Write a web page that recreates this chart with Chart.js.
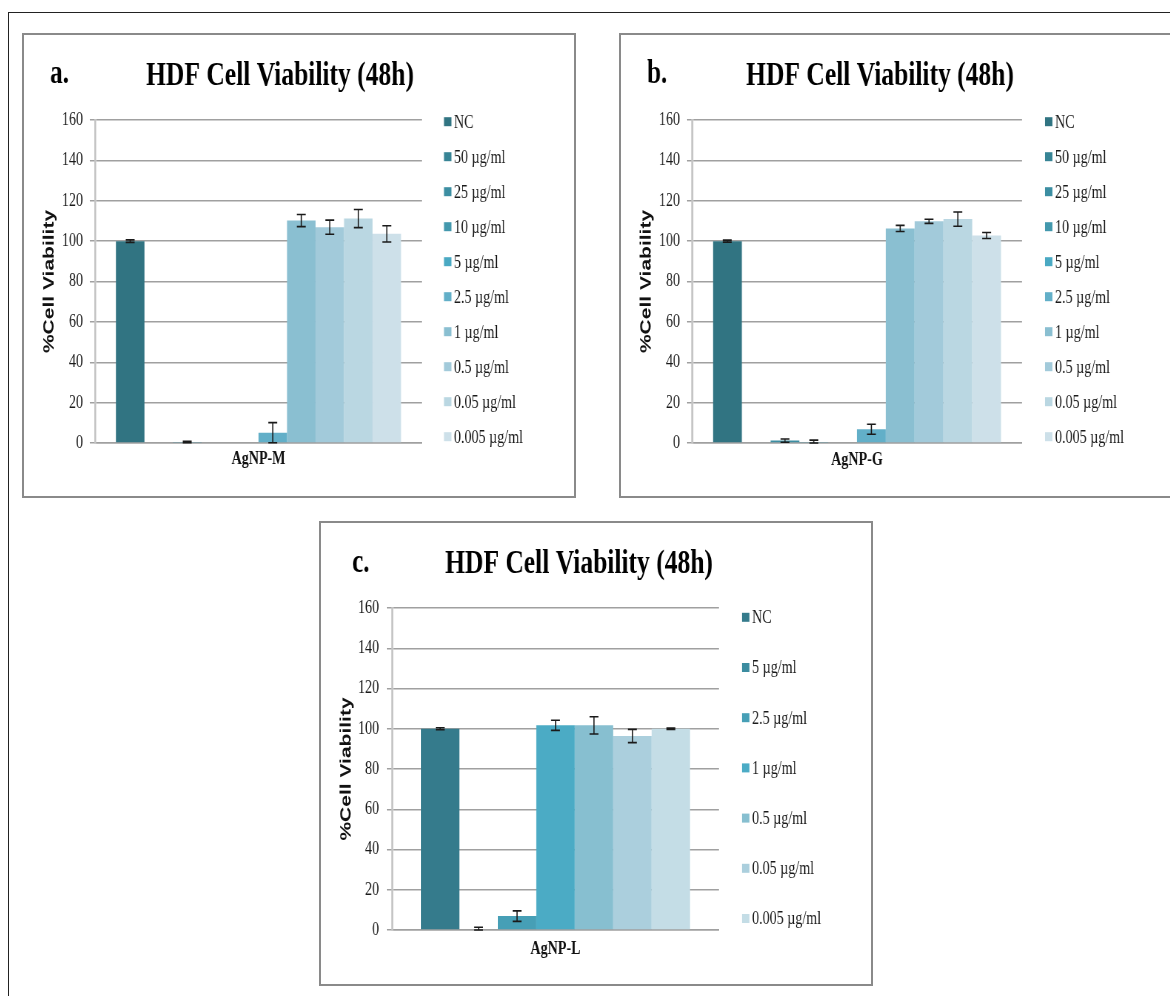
<!DOCTYPE html>
<html>
<head>
<meta charset="utf-8">
<title>HDF Cell Viability (48h)</title>
<script src="https://cdn.jsdelivr.net/npm/chart.js@4.4.1/dist/chart.umd.min.js"></script>
<style>
    html, body { margin: 0; padding: 0; background: #fff; }
    body { width: 1170px; height: 996px; position: relative; overflow: hidden; }
    #frame {
        position: absolute; left: 8px; top: 12px; width: 1200px; height: 1000px;
        border-left: 1px solid #222; border-top: 1px solid #222;
    }
    .panel {
        position: absolute; box-sizing: border-box;
        border: 2px solid #8a8a8a; background: #fff; overflow: hidden;
    }
    .squash { transform-origin: 0 0; }
    canvas { display: block; }
</style>
</head>
<body>
<div id="frame"></div>
<div class="panel" id="panel-a"><div class="squash"><canvas></canvas></div></div>
<div class="panel" id="panel-b"><div class="squash"><canvas></canvas></div></div>
<div class="panel" id="panel-c"><div class="squash"><canvas></canvas></div></div>

<script>
/***************************************************************
 * DATA
 ***************************************************************/
const chartTitle = "HDF Cell Viability (48h)";
const yAxisTitle = "%Cell Viability";
const yTickValues = [0, 20, 40, 60, 80, 100, 120, 140, 160];

// a. AgNP-M
const categoriesA = ["AgNP-M"];
const seriesA = ["NC", "50 µg/ml", "25 µg/ml", "10 µg/ml", "5 µg/ml", "2.5 µg/ml",
                 "1 µg/ml", "0.5 µg/ml", "0.05 µg/ml", "0.005 µg/ml"];
const valuesA = [100, -0.3, 0.5, -0.3, -0.3, 5.1, 110.2, 106.9, 111.2, 103.6];
const errorsA = [0.6, 0, 0.4, 0, 0, 5, 3, 3.5, 4.5, 4];

// b. AgNP-G
const categoriesB = ["AgNP-G"];
const seriesB = ["NC", "50 µg/ml", "25 µg/ml", "10 µg/ml", "5 µg/ml", "2.5 µg/ml",
                 "1 µg/ml", "0.5 µg/ml", "0.05 µg/ml", "0.005 µg/ml"];
const valuesB = [100, -0.3, 1.2, 0.3, -0.3, 6.8, 106.3, 109.8, 110.9, 102.8];
const errorsB = [0.5, 0, 0.8, 1.1, 0, 2.5, 1.5, 1, 3.5, 1.5];

// c. AgNP-L
const categoriesC = ["AgNP-L"];
const seriesC = ["NC", "5 µg/ml", "2.5 µg/ml", "1 µg/ml", "0.5 µg/ml", "0.05 µg/ml", "0.005 µg/ml"];
const valuesC = [100, 0.4, 6.9, 101.7, 101.7, 96.4, 100];
const errorsC = [0.5, 1, 2.6, 2.5, 4.3, 3.3, 0.3];

/***************************************************************
 * STYLE / LAYOUT
 ***************************************************************/
const paletteAB = ["#317482", "#378495", "#3c8ea2", "#4398ad", "#4aa9c3", "#62afc8",
                   "#8abfd1", "#a2cada", "#bad7e2", "#cde0e9"];
const paletteC = ["#357b8c", "#3b8ca0", "#469fb6", "#4babc5", "#87bfd0", "#abcfdd", "#c4dde6"];

const SQUASH = 0.74;   // the whole figure is horizontally compressed
const BORDER = 2;
const GRID = "#a0a0a0";
const INK = "#1a1a1a";

function cx(v) { return (v - BORDER) / SQUASH; }
function cy(v) { return v - BORDER; }

const PANELS = [
    {
        key: "a", letter: "a.", categories: categoriesA, series: seriesA,
        values: valuesA, errors: errorsA, colors: paletteAB,
        box: { left: 22, top: 33, width: 554, height: 465 },
        plot: { left: 73, right: 400, top: 87, bottom: 410 },
        tickRight: 61, catLabelY: 426, yTitleX: 27,
        titleX: 258, letterX: 28, titleBase: 52, letterBase: 50,
        legend: { squareX: 422, textX: 432, firstY: 88.7, step: 35 },
        barSpan: 0.872
    },
    {
        key: "b", letter: "b.", categories: categoriesB, series: seriesB,
        values: valuesB, errors: errorsB, colors: paletteAB,
        box: { left: 619, top: 33, width: 560, height: 465 },
        plot: { left: 73, right: 403, top: 87, bottom: 410 },
        tickRight: 61, catLabelY: 427, yTitleX: 27,
        titleX: 261, letterX: 28, titleBase: 52, letterBase: 50,
        legend: { squareX: 426, textX: 436, firstY: 88.7, step: 35 },
        barSpan: 0.873
    },
    {
        key: "c", letter: "c.", categories: categoriesC, series: seriesC,
        values: valuesC, errors: errorsC, colors: paletteC,
        box: { left: 319, top: 521, width: 554, height: 465 },
        plot: { left: 73, right: 400, top: 87, bottom: 409 },
        tickRight: 60, catLabelY: 428, yTitleX: 27,
        titleX: 260, letterX: 33, titleBase: 52, letterBase: 50.5,
        legend: { squareX: 423, textX: 433, firstY: 96.3, step: 50.2 },
        barSpan: 0.823
    }
];

/***************************************************************
 * PLUGINS
 ***************************************************************/
const errorBars = {
    id: "errorBars",
    afterDatasetsDraw(chart) {
        const ctx = chart.ctx;
        const yScale = chart.scales.y;
        ctx.save();
        ctx.strokeStyle = INK;
        ctx.lineWidth = 1.6;
        chart.data.datasets.forEach((ds, i) => {
            chart.getDatasetMeta(i).data.forEach((bar, j) => {
                const err = ds.errors[j];
                if (!err) return;
                const v = ds.data[j];
                const yTop = yScale.getPixelForValue(v + err);
                const yBot = yScale.getPixelForValue(Math.max(v - err, 0));
                const half = 6;
                ctx.beginPath();
                ctx.moveTo(bar.x, yTop); ctx.lineTo(bar.x, yBot);
                ctx.moveTo(bar.x - half, yTop); ctx.lineTo(bar.x + half, yTop);
                ctx.moveTo(bar.x - half, yBot); ctx.lineTo(bar.x + half, yBot);
                ctx.stroke();
            });
        });
        ctx.restore();
    }
};

function decorPlugin(p) {
    return {
        id: "decor",
        afterDraw(chart) {
            const ctx = chart.ctx;
            ctx.save();
            ctx.fillStyle = "#000";
            ctx.textBaseline = "alphabetic";
            ctx.textAlign = "left";
            ctx.font = "bold 34px 'Liberation Serif'";
            ctx.fillText(p.letter, cx(p.letterX), cy(p.letterBase));
            ctx.textAlign = "center";
            ctx.font = "bold 34.5px 'Liberation Serif'";
            ctx.fillText(chartTitle, cx(p.titleX), cy(p.titleBase));

            // legend
            ctx.textAlign = "left";
            ctx.textBaseline = "middle";
            ctx.font = "19px 'Liberation Serif'";
            chart.data.datasets.forEach((ds, i) => {
                const y = cy(p.legend.firstY + i * p.legend.step);
                ctx.fillStyle = ds.backgroundColor;
                ctx.fillRect(cx(p.legend.squareX), y - 4.5, 7.4 / SQUASH, 9);
                ctx.fillStyle = INK;
                ctx.fillText(ds.label, cx(p.legend.textX), y + 1);
            });
            ctx.restore();
        }
    };
}

/***************************************************************
 * PANELS
 ***************************************************************/
function drawPanel(p) {
    const panel = document.getElementById("panel-" + p.key);
    panel.style.left = p.box.left + "px";
    panel.style.top = p.box.top + "px";
    panel.style.width = p.box.width + "px";
    panel.style.height = p.box.height + "px";

    const w = Math.round((p.box.width - 2 * BORDER) / SQUASH);
    const h = p.box.height - 2 * BORDER;
    const wrap = panel.querySelector(".squash");
    wrap.style.width = w + "px";
    wrap.style.height = h + "px";
    wrap.style.transform = "scaleX(" + SQUASH + ")";

    const canvas = panel.querySelector("canvas");
    canvas.width = w;
    canvas.height = h;

    const areaLeft = cx(p.plot.left);
    const areaRight = cx(p.plot.right);
    const areaTop = cy(p.plot.top);
    const areaBottom = cy(p.plot.bottom);

    const yTitleSize = 21;
    const padLeft = cx(p.yTitleX) - yTitleSize * 1.2 / 2;
    const yWidth = areaLeft - padLeft;
    const tickLen = 7;
    const xHeight = 40;
    const catSize = 19;

    new Chart(canvas, {
        type: "bar",
        data: {
            labels: p.categories,
            datasets: p.series.map((label, i) => ({
                label: label,
                data: [p.values[i]],
                errors: [p.errors[i]],
                backgroundColor: p.colors[i],
                borderWidth: 0,
                barPercentage: 1,
                categoryPercentage: p.barSpan
            }))
        },
        options: {
            responsive: false,
            animation: false,
            events: [],
            layout: {
                padding: {
                    left: padLeft,
                    right: w - areaRight,
                    top: areaTop,
                    bottom: h - areaBottom - xHeight
                }
            },
            plugins: {
                legend: { display: false },
                title: { display: false },
                tooltip: { enabled: false }
            },
            scales: {
                x: {
                    offset: true,
                    grid: { display: false, drawTicks: false },
                    border: { display: true, color: GRID, width: 1.5 },
                    ticks: {
                        padding: (p.catLabelY - p.plot.bottom) - catSize * 1.2 / 2,
                        color: "#111",
                        font: { family: "'Liberation Serif'", size: catSize, weight: "bold" }
                    },
                    afterFit: scale => { scale.height = xHeight; }
                },
                y: {
                    min: 0,
                    max: 160,
                    afterBuildTicks: scale => {
                        scale.ticks = yTickValues.map(v => ({ value: v }));
                    },
                    grid: { color: GRID, lineWidth: 1.5, tickLength: tickLen, tickColor: GRID },
                    border: { display: true, color: "#c4c4c4", width: 2.5 },
                    ticks: {
                        padding: areaLeft - tickLen - cx(p.tickRight),
                        color: INK,
                        font: { family: "'Liberation Serif'", size: 19 }
                    },
                    title: {
                        display: true,
                        text: yAxisTitle,
                        color: "#111",
                        padding: 0,
                        font: { family: "'Liberation Sans'", size: yTitleSize, weight: "bold" }
                    },
                    afterFit: scale => { scale.width = yWidth; }
                }
            }
        },
        plugins: [errorBars, decorPlugin(p)]
    });
}

document.addEventListener("DOMContentLoaded", () => {
    PANELS.forEach(drawPanel);
});
</script>
</body>
</html>
